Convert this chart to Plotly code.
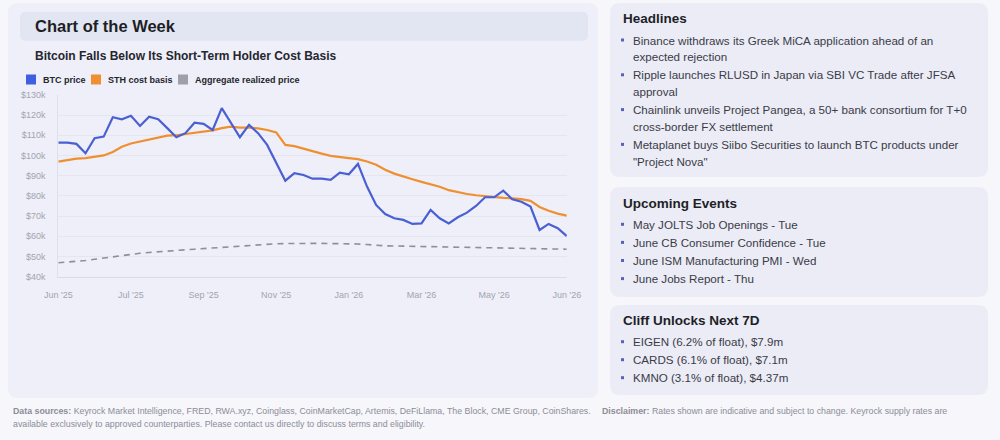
import plotly.graph_objects as go

W, H = 1000, 440

# ---------------- data (values in $k) ----------------
btc_price = [106.3, 106.3, 105.7, 101.1, 108.5, 109.3, 118.9, 117.9, 119.6, 114.6,
             119.2, 117.9, 113.5, 109.0, 111.0, 116.2, 115.6, 112.6, 123.4, 116.0,
             109.0, 115.1, 111.0, 105.2, 96.1, 87.5, 91.2, 90.3, 88.5, 88.5,
             87.9, 91.5, 90.7, 95.8, 84.6, 75.5, 71.0, 68.9, 68.1, 66.1,
             66.4, 73.0, 68.9, 66.4, 69.4, 71.7, 75.0, 79.3, 79.3, 82.6,
             78.3, 77.1, 74.7, 63.1, 66.1, 64.0, 60.1]
sth_cost_basis = [96.9, 97.8, 98.4, 98.7, 99.3, 100.0, 101.7, 104.3, 105.9, 106.9,
                  108.0, 109.0, 109.8, 110.0, 110.6, 111.2, 111.8, 112.4, 113.5, 114.2,
                  113.8, 113.8, 113.4, 112.6, 111.4, 105.2, 104.6, 103.3, 102.0, 100.9,
                  99.8, 99.1, 98.7, 98.2, 97.0, 95.4, 92.9, 91.0, 89.5, 88.2,
                  86.9, 85.7, 84.5, 82.8, 81.8, 80.9, 80.3, 79.8, 79.3, 79.0,
                  78.8, 78.4, 77.5, 74.5, 72.6, 71.2, 70.2]
aggregate_realized = [46.9, 47.2, 47.6, 48.0, 48.6, 49.2, 49.9, 50.7, 51.2, 51.6,
                      52.0, 52.4, 52.7, 53.0, 53.3, 53.6, 53.9, 54.2, 54.5, 54.9,
                      55.3, 55.6, 55.9, 56.1, 56.3, 56.4, 56.5, 56.5, 56.5, 56.5,
                      56.4, 56.4, 56.3, 56.2, 55.9, 55.5, 55.3, 55.2, 55.1, 55.0,
                      54.9, 54.8, 54.7, 54.6, 54.5, 54.4, 54.3, 54.2, 54.1, 54.0,
                      54.0, 53.9, 53.9, 53.8, 53.7, 53.7, 53.6]
period_index = list(range(len(btc_price)))
tick_positions = [0, 8, 16, 24, 32, 40, 48, 56]
tick_labels = ["Jun '25", "Jul '25", "Sep '25", "Nov '25", "Jan '26", "Mar '26", "May '26", "Jun '26"]
y_ticks = [40, 50, 60, 70, 80, 90, 100, 110, 120, 130]
y_tick_labels = [f"${v}k" for v in y_ticks]

series_names = ["BTC price", "STH cost basis", "Aggregate realized price"]

headlines = [
    ["Binance withdraws its Greek MiCA application ahead of an", "expected rejection"],
    ["Ripple launches RLUSD in Japan via SBI VC Trade after JFSA", "approval"],
    ["Chainlink unveils Project Pangea, a 50+ bank consortium for T+0", "cross-border FX settlement"],
    ["Metaplanet buys Siibo Securities to launch BTC products under", "\"Project Nova\""],
]
upcoming_events = [
    "May JOLTS Job Openings - Tue",
    "June CB Consumer Confidence - Tue",
    "June ISM Manufacturing PMI - Wed",
    "June Jobs Report - Thu",
]
cliff_unlocks = [
    "EIGEN (6.2% of float), $7.9m",
    "CARDS (6.1% of float), $7.1m",
    "KMNO (3.1% of float), $4.37m",
]
footer_sources = ("Keyrock Market Intelligence, FRED, RWA.xyz, Coinglass, CoinMarketCap, Artemis, "
                  "DeFiLlama, The Block, CME Group, CoinShares.")
footer_disclaimer_1 = "Rates shown are indicative and subject to change. Keyrock supply rates are"
footer_disclaimer_2 = ("available exclusively to approved counterparties. Please contact us directly "
                       "to discuss terms and eligibility.")

# ---------------- styles ----------------
FONT = "Liberation Sans, Arial, sans-serif"
BLUE = "#4a60d2"
ORANGE = "#ef8f2f"
GREY = "#8d8f9b"
PAGE_BG = "#f6f6fb"
CARD_BG = "#eeeff8"
RCARD_BG = "#ebecf6"
HEADER_BG = "#e2e6f2"
TITLE_C = "#1e1f26"
BODY_C = "#3a3b46"
TICK_C = "#a2a4b0"


def X(px):
    return px / W


def Y(py):
    return 1 - py / H


def rrect(x0, y0, x1, y1, r, fill):
    p = (f"M {X(x0 + r)},{Y(y0)} L {X(x1 - r)},{Y(y0)} Q {X(x1)},{Y(y0)} {X(x1)},{Y(y0 + r)} "
         f"L {X(x1)},{Y(y1 - r)} Q {X(x1)},{Y(y1)} {X(x1 - r)},{Y(y1)} "
         f"L {X(x0 + r)},{Y(y1)} Q {X(x0)},{Y(y1)} {X(x0)},{Y(y1 - r)} "
         f"L {X(x0)},{Y(y0 + r)} Q {X(x0)},{Y(y0)} {X(x0 + r)},{Y(y0)} Z")
    return dict(type="path", path=p, xref="paper", yref="paper", fillcolor=fill,
                line=dict(width=0), layer="below")


def box(x0, y0, x1, y1, fill):
    return dict(type="rect", xref="paper", yref="paper", x0=X(x0), x1=X(x1), y0=Y(y1), y1=Y(y0),
                fillcolor=fill, line=dict(width=0), layer="above")


shapes = []
annotations = []


def text(px, py, s, size, color, bold=False, anchor="left"):
    annotations.append(dict(
        x=X(px), y=Y(py), xref="paper", yref="paper", xanchor=anchor, yanchor="middle",
        text=f"<b>{s}</b>" if bold else s, showarrow=False,
        font=dict(family=FONT, size=size, color=color), align="left"))


# cards
shapes.append(rrect(8, 3, 598, 398, 10, CARD_BG))
shapes.append(rrect(20, 11.7, 588, 40.7, 6, HEADER_BG))
shapes.append(rrect(610, 3, 988, 177, 10, RCARD_BG))
shapes.append(rrect(610, 187, 988, 297, 10, RCARD_BG))
shapes.append(rrect(610, 305, 988, 395, 10, RCARD_BG))

# titles
text(32.5, 26, "Chart of the Week", 16.5, TITLE_C, bold=True)
text(32.5, 55.7, "Bitcoin Falls Below Its Short-Term Holder Cost Basis", 12, "#25262e", bold=True)

# legend
legend_x = [26, 91, 178]
legend_colors = ["#3f5fe0", ORANGE, "#9d9fab"]
for lx, lc, name in zip(legend_x, legend_colors, series_names):
    shapes.append(box(lx, 74.5, lx + 10, 84.5, lc))
    text(lx + 15, 79.5, name, 9, "#25262e", bold=True)

# right panels
BUL = "#5a62b5"
text(620.5, 18.3, "Headlines", 13.5, TITLE_C, bold=True)
y0 = 40
for item in headlines:
    shapes.append(box(621, y0 - 1.5, 624, y0 + 1.5, BUL))
    for k, line in enumerate(item):
        text(630.5, y0 + k * 16.7, line, 11.6, BODY_C)
    y0 += 34.8

text(620.5, 203.3, "Upcoming Events", 13.5, TITLE_C, bold=True)
for k, ev in enumerate(upcoming_events):
    yy = 224.3 + k * 18.1
    shapes.append(box(621, yy - 1.5, 624, yy + 1.5, BUL))
    text(630.5, yy, ev, 11.6, BODY_C)

text(620.5, 320.7, "Cliff Unlocks Next 7D", 13.5, TITLE_C, bold=True)
for k, cu in enumerate(cliff_unlocks):
    yy = 341.7 + k * 18.0
    shapes.append(box(621, yy - 1.5, 624, yy + 1.5, BUL))
    text(630.5, yy, cu, 11.6, BODY_C)

# footer
FOOT_C = "#8b8d98"
text(10.8, 410.7, "<b>Data sources:</b> " + footer_sources, 8.8, FOOT_C)
text(599.5, 410.7, "<b>Disclaimer:</b> " + footer_disclaimer_1, 8.8, FOOT_C)
text(10.8, 424.3, footer_disclaimer_2, 8.8, FOOT_C)

# ---------------- traces ----------------
fig = go.Figure()
fig.add_trace(go.Scatter(x=period_index, y=aggregate_realized, mode="lines", name=series_names[2],
                         line=dict(color=GREY, width=1.6, dash="6px,5px")))
fig.add_trace(go.Scatter(x=period_index, y=sth_cost_basis, mode="lines", name=series_names[1],
                         line=dict(color=ORANGE, width=2.2)))
fig.add_trace(go.Scatter(x=period_index, y=btc_price, mode="lines", name=series_names[0],
                         line=dict(color=BLUE, width=2.2)))

fig.update_layout(
    width=W, height=H, margin=dict(l=0, r=0, t=0, b=0, pad=0, autoexpand=False),
    paper_bgcolor=PAGE_BG, plot_bgcolor="rgba(0,0,0,0)",
    showlegend=False, hovermode=False,
    shapes=shapes, annotations=annotations,
    xaxis=dict(domain=[X(58.3), X(566.8)], range=[0, 56], tickvals=tick_positions, ticktext=tick_labels,
               showgrid=False, zeroline=False, showline=True, linecolor="#d9dbe6", linewidth=1,
               ticks="", tickfont=dict(family=FONT, size=9, color=TICK_C), ticklabelstandoff=9,
               automargin=False, fixedrange=True),
    yaxis=dict(domain=[Y(276.7), Y(94.8)], range=[40, 130], tickvals=y_ticks, ticktext=y_tick_labels,
               showgrid=True, gridcolor="#e3e5ef", gridwidth=1, zeroline=False,
               showline=True, linecolor="#dfe1ea", linewidth=1,
               ticks="", tickfont=dict(family=FONT, size=9, color=TICK_C), ticklabelstandoff=10,
               automargin=False, fixedrange=True),
)

fig.write_html("out.html", config={"displayModeBar": False, "responsive": False},
               post_script="document.body.style.margin='0';document.body.style.overflow='hidden';")
